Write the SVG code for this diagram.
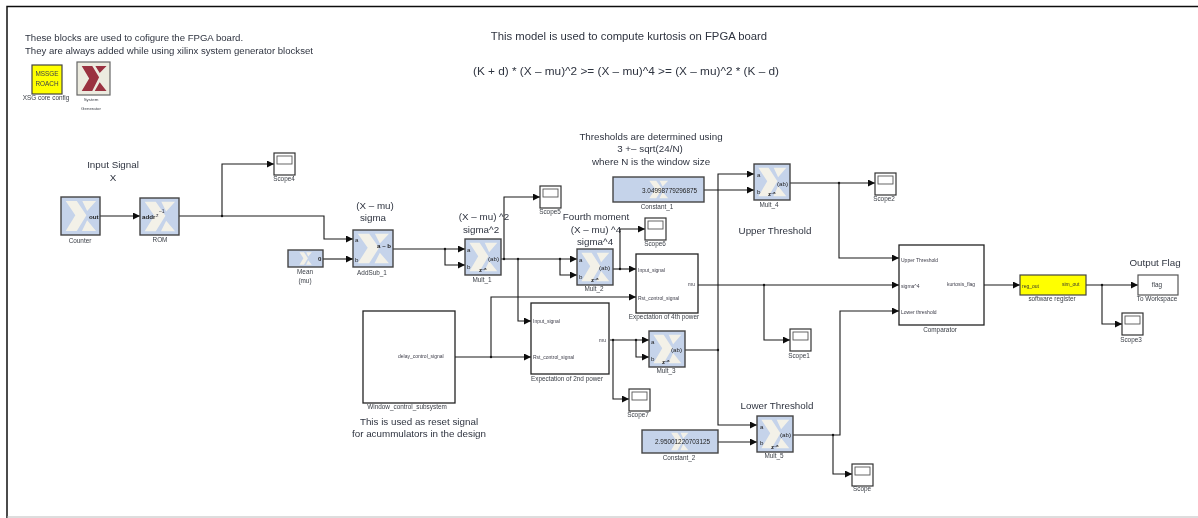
<svg xmlns="http://www.w3.org/2000/svg" width="1198" height="518" viewBox="0 0 1198 518">
<style>
text{font-family:"Liberation Sans",Arial,sans-serif;fill:#2f3440}
.t{font-size:9.800px;text-anchor:middle}
.m{font-size:11.300px;text-anchor:middle}
.h{font-size:9.600px}
.l{font-size:6.400px;text-anchor:middle;fill:#3c4048}
.p{font-size:5px;fill:#3c3c48}
.pb{font-size:6.200px;fill:#222}
.n{font-size:6.400px;fill:#222}
.b{fill:#c5d3ea;stroke:#444;stroke-width:1.400}
.s{fill:#fff;stroke:#222;stroke-width:1.300}
.c{fill:none;stroke:#1a1a1a;stroke-width:1.100}
.sc{fill:#fff;stroke:#333;stroke-width:1.200}
.scr{fill:#fff;stroke:#555;stroke-width:.9}
.y{fill:#ffff00;stroke:#444;stroke-width:1.200}
</style>
<defs>
<filter id="soft" filterUnits="userSpaceOnUse" x="0" y="0" width="1198" height="518"><feGaussianBlur stdDeviation="0.35"/></filter>
<marker id="a" markerUnits="userSpaceOnUse" markerWidth="7" markerHeight="7" refX="7" refY="3.500" orient="auto"><path d="M0 0L7 3.500L0 7Z" fill="#111"/></marker>
<symbol id="x" viewBox="0 0 100 100" preserveAspectRatio="none"><path fill="#f3f1e8" d="M10 8H40L66 48L40 92H10L36 48ZM55 8H92L68 36ZM68 62L92 92H54Z"/></symbol>
<symbol id="xr" viewBox="0 0 100 100" preserveAspectRatio="none"><path fill="#9a3040" d="M12 10H46L68 46L46 90H12L36 50L12 10ZM56 10H92L70 32ZM70 62L92 90H54Z"/></symbol>
<g id="scope"><rect class="sc" width="21" height="22"/><rect class="scr" x="3" y="3" width="15" height="8"/></g>
</defs>
<g filter="url(#soft)">
<rect width="1198" height="518" fill="#fff"/>
<g id="frame"><path d="M7 518V6.500H1198" fill="none" stroke="#111" stroke-width="1.500"/><path d="M7 517H1198" fill="none" stroke="#bbb"/></g>
<g id="annotations">
<text class="h" x="25" y="41">These blocks are used to cofigure the FPGA board.</text>
<text class="h" x="25" y="54">They are always added while using xilinx system generator blockset</text>
<text class="m" x="629" y="40">This model is used to compute kurtosis on FPGA board</text>
<text class="m" style="font-size:11.800px" x="626" y="75">(K + d) * (X – mu)^2 &gt;= (X – mu)^4 &gt;= (X – mu)^2 * (K – d)</text>
<text class="t" x="113" y="168">Input Signal</text><text class="t" x="113" y="181">X</text>
<text class="t" x="375" y="209">(X – mu)</text><text class="t" x="373" y="221">sigma</text>
<text class="t" x="484" y="220">(X – mu) ^2</text><text class="t" x="481" y="233">sigma^2</text>
<text class="t" x="596" y="220">Fourth moment</text><text class="t" x="596" y="233">(X – mu) ^4</text><text class="t" x="595" y="245">sigma^4</text>
<text class="t" x="651" y="140">Thresholds are determined using</text><text class="t" x="650" y="152">3 +– sqrt(24/N)</text><text class="t" x="651" y="165">where N is the window size</text>
<text class="t" x="775" y="234">Upper Threshold</text>
<text class="t" x="777" y="409">Lower Threshold</text>
<text class="t" x="1155" y="266">Output Flag</text>
<text class="t" x="419" y="425">This is used as reset signal</text><text class="t" x="419" y="437">for acummulators in the design</text>
</g>
<g id="connectors" class="c">
<path class="c" marker-end="url(#a)" d="M100 216H140"/>
<path class="c" marker-end="url(#a)" d="M179 216H324V239H353"/>
<path class="c" marker-end="url(#a)" d="M222 216V164H274"/>
<path class="c" marker-end="url(#a)" d="M323 259H353"/>
<path class="c" marker-end="url(#a)" d="M393 249H465"/>
<path class="c" marker-end="url(#a)" d="M445 249V265H465"/>
<path class="c" marker-end="url(#a)" d="M501 259H577"/>
<path class="c" marker-end="url(#a)" d="M504 259V197H540"/>
<path class="c" marker-end="url(#a)" d="M518 259V321H531"/>
<path class="c" marker-end="url(#a)" d="M560 259V275H577"/>
<path class="c" marker-end="url(#a)" d="M455 357H531"/>
<path class="c" marker-end="url(#a)" d="M491 357V297H636"/>
<path class="c" marker-end="url(#a)" d="M613 269H636"/>
<path class="c" marker-end="url(#a)" d="M620 269V229H645"/>
<path class="c" marker-end="url(#a)" d="M698 285H899"/>
<path class="c" marker-end="url(#a)" d="M764 285V340H790"/>
<path class="c" marker-end="url(#a)" d="M704 190H754"/>
<path class="c" marker-end="url(#a)" d="M718 350V174H754"/>
<path class="c" marker-end="url(#a)" d="M718 350V425H757"/>
<path class="c" d="M685 350H718"/>
<path class="c" marker-end="url(#a)" d="M790 183H875"/>
<path class="c" marker-end="url(#a)" d="M839 183V258H899"/>
<path class="c" marker-end="url(#a)" d="M793 435H840V311H899"/>
<path class="c" marker-end="url(#a)" d="M833 435V474H852"/>
<path class="c" marker-end="url(#a)" d="M610 340H649"/>
<path class="c" marker-end="url(#a)" d="M636 340V357H649"/>
<path class="c" marker-end="url(#a)" d="M613 340V399H629"/>
<path class="c" marker-end="url(#a)" d="M718 442H757"/>
<path class="c" marker-end="url(#a)" d="M984 285H1020"/>
<path class="c" marker-end="url(#a)" d="M1086 285H1138"/>
<path class="c" marker-end="url(#a)" d="M1102 285V324H1122"/>
<g fill="#111" stroke="none"><circle cx="222" cy="216" r="1.200"/><circle cx="445" cy="249" r="1.200"/><circle cx="504" cy="259" r="1.200"/><circle cx="518" cy="259" r="1.200"/><circle cx="560" cy="259" r="1.200"/><circle cx="491" cy="357" r="1.200"/><circle cx="620" cy="269" r="1.200"/><circle cx="764" cy="285" r="1.200"/><circle cx="718" cy="350" r="1.200"/><circle cx="839" cy="183" r="1.200"/><circle cx="833" cy="435" r="1.200"/><circle cx="613" cy="340" r="1.200"/><circle cx="636" cy="340" r="1.200"/><circle cx="1102" cy="285" r="1.200"/></g>
</g>
<g id="xsg"><rect class="y" x="32" y="65" width="30" height="29"/><text class="l" x="47" y="76">MSSGE</text><text class="l" x="47" y="86">ROACH</text><text class="l" x="46" y="100">XSG core config</text></g>
<g id="sysgen"><rect x="77" y="62" width="33" height="33" fill="#ecebdf" stroke="#666" stroke-width="1.200"/><use href="#xr" x="78" y="63" width="31" height="31"/><text class="l" style="font-size:4.400px" x="91" y="101">System</text><text class="l" style="font-size:4.400px" x="91" y="110">Generator</text></g>
<g id="counter"><rect class="b" x="61" y="197" width="39" height="38"/><use href="#x" x="62" y="198" width="37" height="36"/><text class="pb" x="89" y="219" font-weight="bold">out</text><text class="l" x="80" y="243">Counter</text></g>
<g id="rom"><rect class="b" x="140" y="198" width="39" height="37"/><use href="#x" x="141" y="199" width="37" height="35"/><text class="pb" x="142" y="219" font-weight="bold">addr</text><text class="p" x="156" y="217">z</text><text class="p" x="159" y="213">–1</text><text class="l" x="160" y="242">ROM</text></g>
<g id="scope4"><use href="#scope" x="274" y="153"/><text class="l" x="284" y="181">Scope4</text></g>
<g id="addsub1"><rect class="b" x="353" y="230" width="40" height="37"/><use href="#x" x="354" y="231" width="38" height="35"/><text class="pb" x="355" y="242">a</text><text class="pb" x="355" y="262">b</text><text class="pb" x="377" y="248" font-weight="bold">a – b</text><text class="l" x="372" y="275">AddSub_1</text></g>
<g id="mean"><rect class="b" x="288" y="250" width="35" height="17"/><use href="#x" x="298" y="251" width="15" height="15"/><text class="pb" x="318" y="261" font-weight="bold">0</text><text class="l" x="305" y="274">Mean</text><text class="l" x="305" y="283">(mu)</text></g>
<g id="mult1"><rect class="b" x="465" y="239" width="36" height="36"/><use href="#x" x="466" y="240" width="34" height="34"/><text class="pb" x="467" y="252">a</text><text class="pb" x="467" y="269">b</text><text class="pb" x="488" y="261">(ab)</text><text class="pb" x="479" y="272" font-weight="bold">z<tspan dy="-2" font-size="4">–a</tspan></text><text class="l" x="482" y="282">Mult_1</text></g>
<g id="scope5"><use href="#scope" x="540" y="186"/><text class="l" x="550" y="214">Scope5</text></g>
<g id="window"><rect class="s" x="363" y="311" width="92" height="92"/><text class="p" x="398" y="358">delay_control_signal</text><text class="l" x="407" y="409">Window_control_subsystem</text></g>
<g id="exp2"><rect class="s" x="531" y="303" width="78" height="71"/><text class="p" x="533" y="323">Input_signal</text><text class="p" x="533" y="359">Rst_control_signal</text><text class="p" x="599" y="342">mu</text><text class="l" x="567" y="381">Expectation of 2nd power</text></g>
<g id="mult2"><rect class="b" x="577" y="249" width="36" height="36"/><use href="#x" x="578" y="250" width="34" height="34"/><text class="pb" x="579" y="262">a</text><text class="pb" x="579" y="279">b</text><text class="pb" x="599" y="270">(ab)</text><text class="pb" x="591" y="282" font-weight="bold">z<tspan dy="-2" font-size="4">–a</tspan></text><text class="l" x="594" y="291">Mult_2</text></g>
<g id="exp4"><rect class="s" x="636" y="254" width="62" height="59"/><text class="p" x="638" y="272">Input_signal</text><text class="p" x="638" y="300">Rst_control_signal</text><text class="p" x="688" y="286">mu</text><text class="l" x="664" y="319">Expectation  of 4th power</text></g>
<g id="scope6"><use href="#scope" x="645" y="218"/><text class="l" x="655" y="246">Scope6</text></g>
<g id="const1"><rect class="b" x="613" y="177" width="91" height="25"/><use href="#x" x="647" y="179" width="23" height="21"/><text class="n" x="642" y="193">3.04998779296875</text><text class="l" x="657" y="209">Constant_1</text></g>
<g id="mult4"><rect class="b" x="754" y="164" width="36" height="36"/><use href="#x" x="755" y="165" width="34" height="34"/><text class="pb" x="757" y="177">a</text><text class="pb" x="757" y="194">b</text><text class="pb" x="777" y="186">(ab)</text><text class="pb" x="768" y="196" font-weight="bold">z<tspan dy="-2" font-size="4">–a</tspan></text><text class="l" x="769" y="207">Mult_4</text></g>
<g id="scope2"><use href="#scope" x="875" y="173"/><text class="l" x="884" y="201">Scope2</text></g>
<g id="comparator"><rect class="s" x="899" y="245" width="85" height="80"/><text class="p" x="901" y="262">Upper Threshold</text><text class="p" x="901" y="288">sigma^4</text><text class="p" x="901" y="314">Lower threshold</text><text class="p" x="947" y="286">kurtosis_flag</text><text class="l" x="940" y="332">Comparator</text></g>
<g id="register"><rect class="y" x="1020" y="275" width="66" height="20"/><text class="p" x="1022" y="288" style="fill:#333">reg_out</text><text class="p" x="1062" y="286" style="fill:#333">sim_out</text><text class="l" x="1052" y="301">software register</text></g>
<g id="workspace"><rect x="1138" y="275" width="40" height="20" fill="#fff" stroke="#555" stroke-width="1.200"/><text class="l" x="1157" y="287">flag</text><text class="l" x="1157" y="301">To Workspace</text></g>
<g id="scope3"><use href="#scope" x="1122" y="313"/><text class="l" x="1131" y="342">Scope3</text></g>
<g id="mult3"><rect class="b" x="649" y="331" width="36" height="36"/><use href="#x" x="650" y="332" width="34" height="34"/><text class="pb" x="651" y="344">a</text><text class="pb" x="651" y="361">b</text><text class="pb" x="671" y="352">(ab)</text><text class="pb" x="662" y="364" font-weight="bold">z<tspan dy="-2" font-size="4">–a</tspan></text><text class="l" x="666" y="373">Mult_3</text></g>
<g id="scope7"><use href="#scope" x="629" y="389"/><text class="l" x="638" y="417">Scope7</text></g>
<g id="scope1"><use href="#scope" x="790" y="329"/><text class="l" x="799" y="358">Scope1</text></g>
<g id="const2"><rect class="b" x="642" y="430" width="76" height="23"/><use href="#x" x="669" y="431" width="21" height="21"/><text class="n" x="655" y="444">2.95001220703125</text><text class="l" x="679" y="460">Constant_2</text></g>
<g id="mult5"><rect class="b" x="757" y="416" width="36" height="36"/><use href="#x" x="758" y="417" width="34" height="34"/><text class="pb" x="760" y="429">a</text><text class="pb" x="760" y="445">b</text><text class="pb" x="780" y="437">(ab)</text><text class="pb" x="771" y="449" font-weight="bold">z<tspan dy="-2" font-size="4">–a</tspan></text><text class="l" x="774" y="458">Mult_5</text></g>
<g id="scope0"><use href="#scope" x="852" y="464"/><text class="l" x="862" y="491">Scope</text></g>
</g>
</svg>
